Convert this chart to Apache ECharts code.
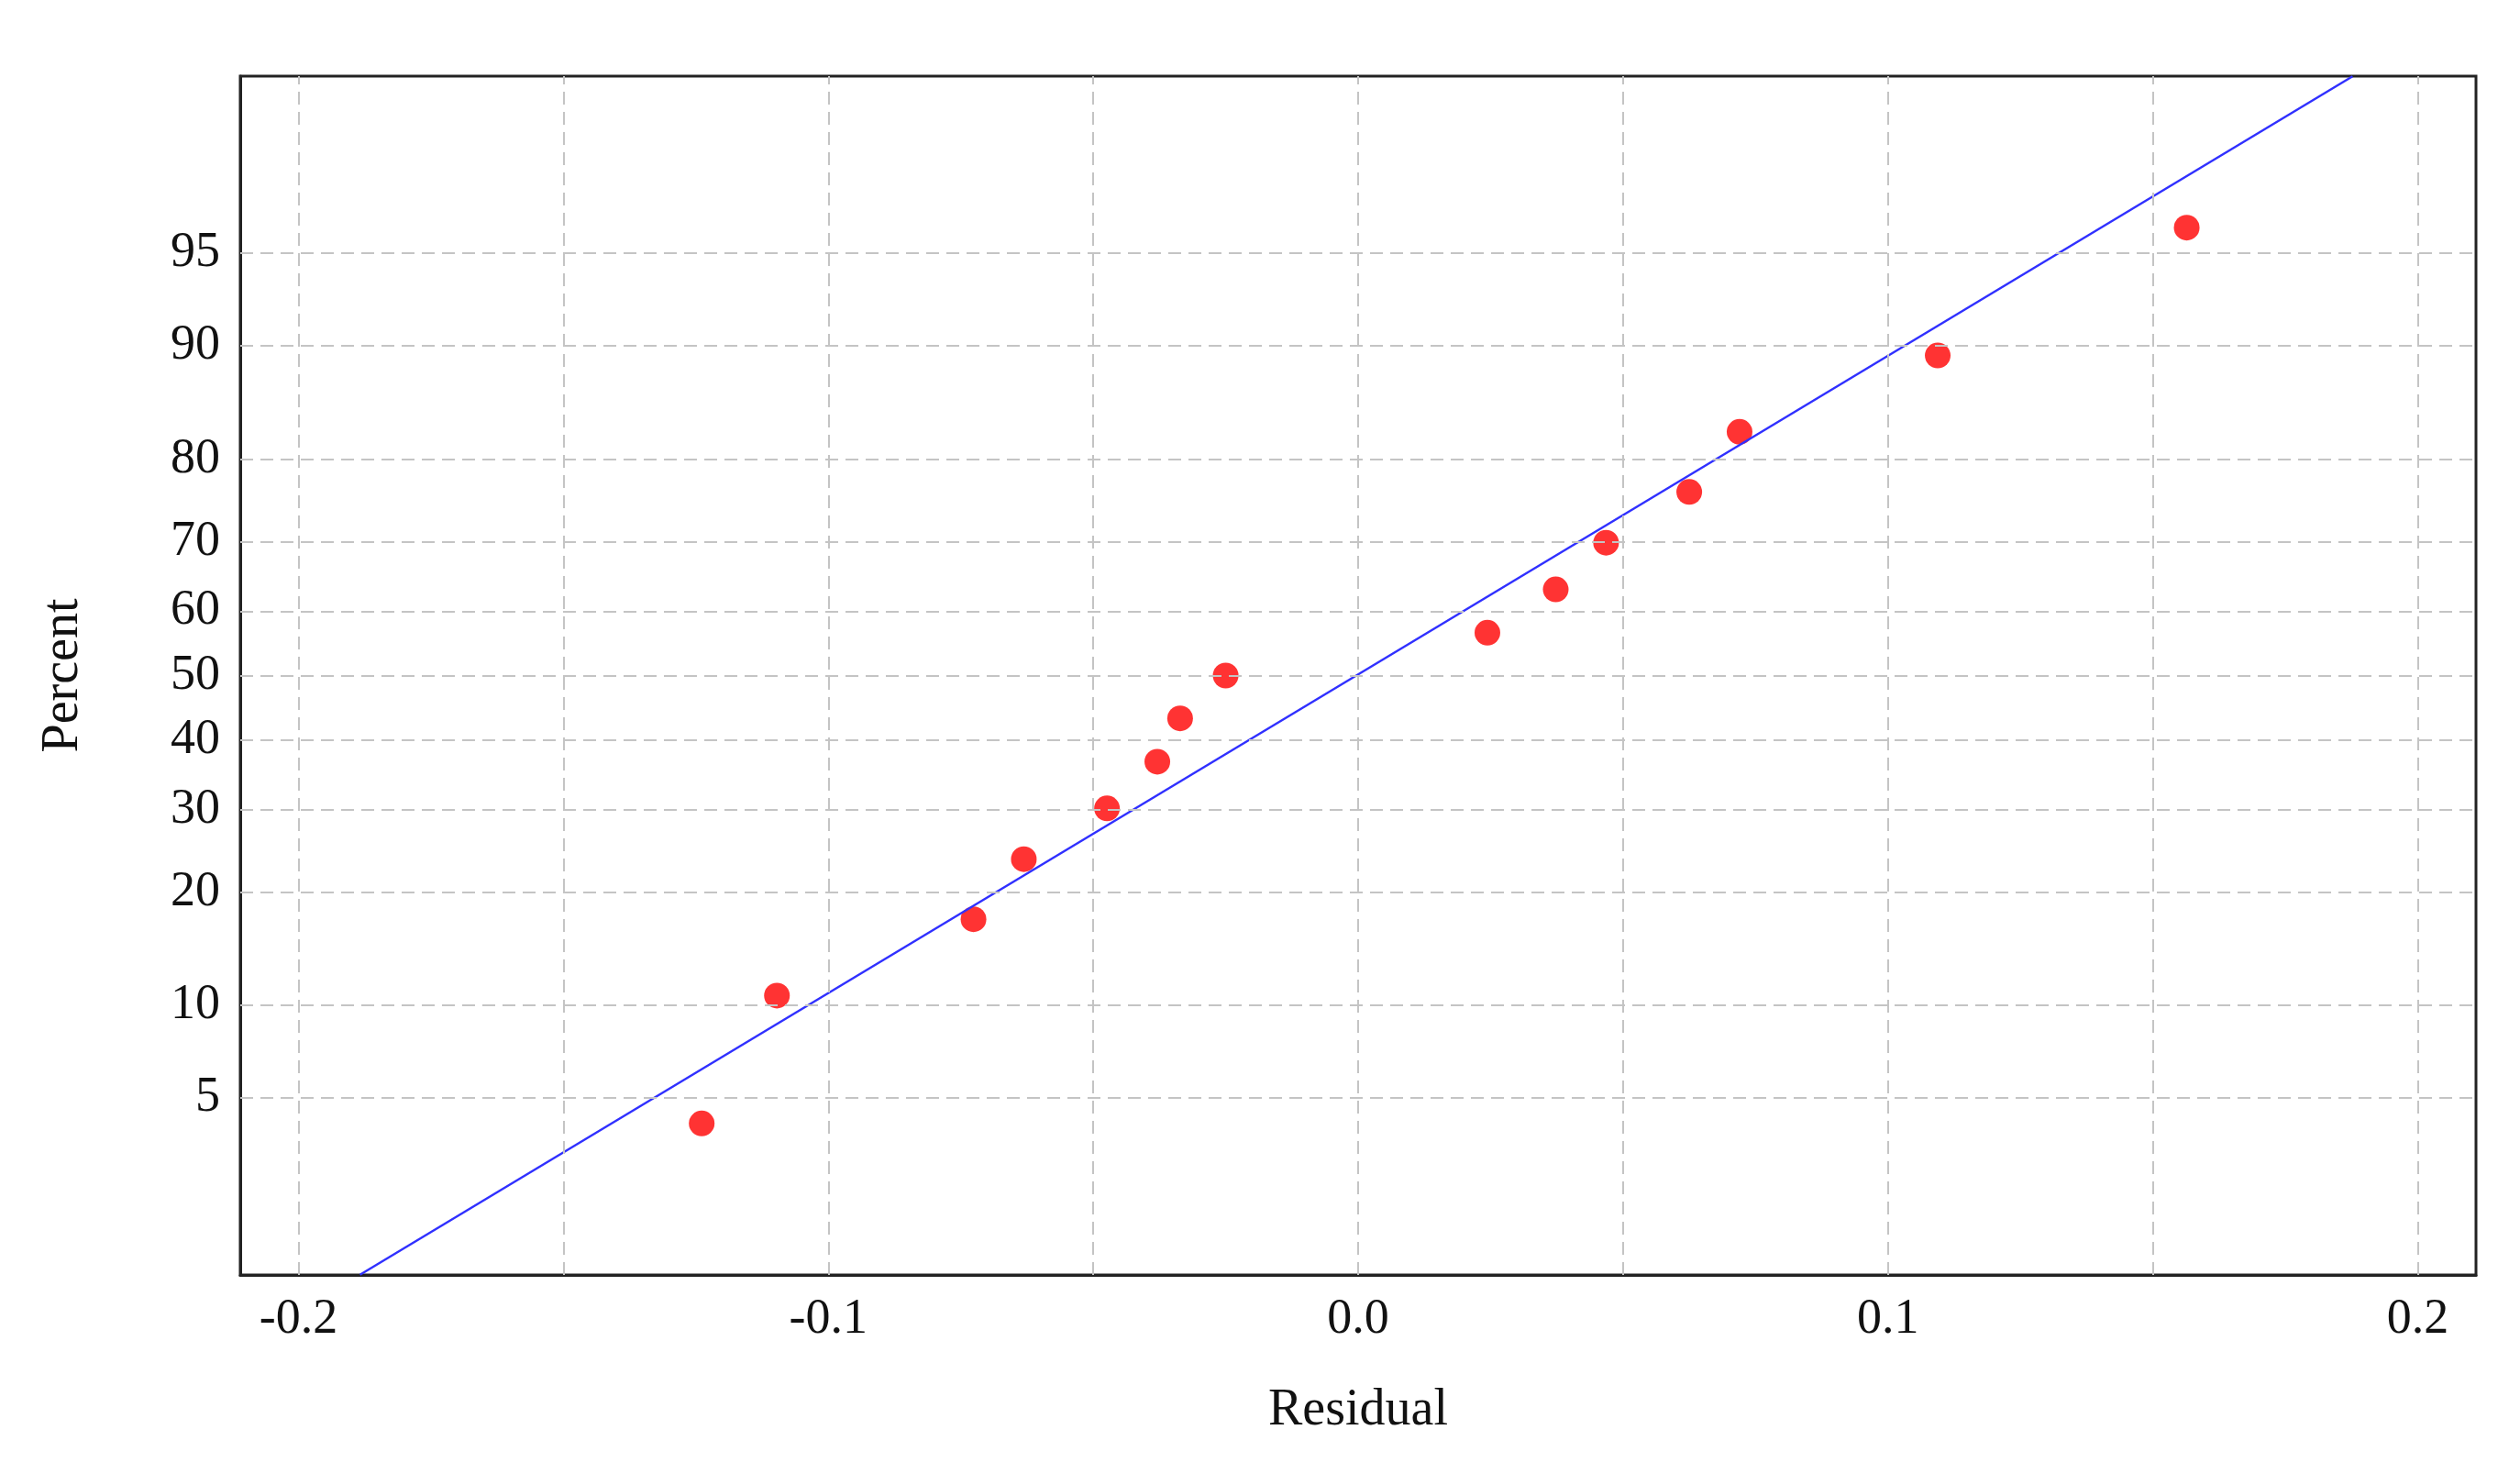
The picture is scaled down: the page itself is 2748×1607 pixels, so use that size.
<!DOCTYPE html>
<html><head><meta charset="utf-8">
<script src="https://cdn.jsdelivr.net/npm/echarts@6/dist/echarts.min.js"></script>
<style>html,body{margin:0;background:#fff}#c{width:2748px;height:1607px}</style>
</head><body><div id="c"></div>
<script>
// residuals, with their plotted percent positions
const residuals = [-0.1239, -0.1097, -0.0726, -0.0631, -0.0474, -0.0379, -0.0336, -0.0250,
  0.0244, 0.0373, 0.0468, 0.0625, 0.0720, 0.1094, 0.1564]
const percents = [4.1, 10.7, 17.2, 23.8, 30.3, 36.9, 43.4, 50.0, 56.6, 63.1, 69.7, 76.2, 82.8, 89.3, 95.9]
const fitLine = [[-0.1884, 1], [0.1877, 99]]
const percentTicks = [1, 5, 10, 20, 30, 40, 50, 60, 70, 80, 90, 95, 99]
const residualGrid = [-0.2, -0.15, -0.1, -0.05, 0, 0.05, 0.1, 0.15, 0.2]
const residualLabels = ['-0.2', '', '-0.1', '', '0.0', '', '0.1', '', '0.2']

// inverse normal CDF (Acklam), used as the probability-paper scale
function probit(p) {
  const a = [-39.69683028665376, 220.9460984245205, -275.9285104469687, 138.3577518672690, -30.66479806614716, 2.506628277459239]
  const b = [-54.47609879822406, 161.5858368580409, -155.6989798598866, 66.80131188771972, -13.28068155288572]
  const c = [-0.007784894002430293, -0.3223964580411365, -2.400758277161838, -2.549732539343734, 4.374664141464968, 2.938163982698783]
  const d = [0.007784695709041462, 0.3224671290700398, 2.445134137142996, 3.754408661907416]
  const pl = 0.02425
  let q, r
  if (p < pl) {
    q = Math.sqrt(-2 * Math.log(p))
    return (((((c[0]*q+c[1])*q+c[2])*q+c[3])*q+c[4])*q+c[5]) / ((((d[0]*q+d[1])*q+d[2])*q+d[3])*q+1)
  }
  if (p > 1 - pl) {
    q = Math.sqrt(-2 * Math.log(1 - p))
    return -(((((c[0]*q+c[1])*q+c[2])*q+c[3])*q+c[4])*q+c[5]) / ((((d[0]*q+d[1])*q+d[2])*q+d[3])*q+1)
  }
  q = p - 0.5; r = q * q
  return (((((a[0]*r+a[1])*r+a[2])*r+a[3])*r+a[4])*r+a[5])*q / (((((b[0]*r+b[1])*r+b[2])*r+b[3])*r+b[4])*r+1)
}
const z = (pct) => probit(pct / 100)
const zMin = z(1) - 0.001
const zMax = z(99) + 0.001

const font = 'Liberation Serif'
const gridStyle = { color: '#c4c4c4', type: [14, 8], width: 2 }
const labelStyle = { show: true, position: 'start', distance: 22, fontFamily: font, fontSize: 54, color: '#111' }

const chart = echarts.init(document.getElementById('c'))
chart.setOption({
  animation: false,
  grid: { left: 262, right: 48, top: 83, bottom: 217 },
  xAxis: {
    type: 'value', min: -0.211, max: 0.211,
    name: 'Residual', nameLocation: 'middle', nameGap: 120,
    nameTextStyle: { fontFamily: font, fontSize: 56, color: '#111' },
    axisLabel: { show: false }, axisTick: { show: false }, splitLine: { show: false },
    axisLine: { onZero: false, lineStyle: { color: '#222', width: 3 } }
  },
  yAxis: {
    type: 'value', min: zMin, max: zMax,
    name: 'Percent', nameLocation: 'middle', nameGap: 165,
    nameTextStyle: { fontFamily: font, fontSize: 56, color: '#111' },
    axisLabel: { show: false }, axisTick: { show: false }, splitLine: { show: false },
    axisLine: { onZero: false, lineStyle: { color: '#222', width: 3 } }
  },
  series: [
    {
      type: 'line', symbol: 'none', silent: true,
      data: fitLine.map(([x, p]) => [x, z(p)]),
      lineStyle: { color: '#3030ff', width: 2.5 },
      markLine: {
        symbol: 'none', silent: true, animation: false,
        lineStyle: gridStyle,
        data: [
          ...percentTicks.map((p) => ({
            yAxis: z(p),
            lineStyle: (p === 1 || p === 99) ? { opacity: 0 } : gridStyle,
            label: { ...labelStyle, formatter: String(p) }
          })),
          ...residualGrid.map((v, i) => ({
            xAxis: v,
            label: { ...labelStyle, formatter: residualLabels[i] }
          }))
        ]
      }
    },
    {
      type: 'scatter', symbolSize: 28,
      itemStyle: { color: '#ff0000' },
      data: residuals.map((r, i) => [r, z(percents[i])])
    }
  ],
  graphic: [{
    type: 'rect', silent: true,
    shape: { x: 262, y: 83, width: 2748 - 262 - 48, height: 1607 - 83 - 217 },
    style: { fill: 'none', stroke: '#222', lineWidth: 3 }
  }]
})
</script></body></html>
